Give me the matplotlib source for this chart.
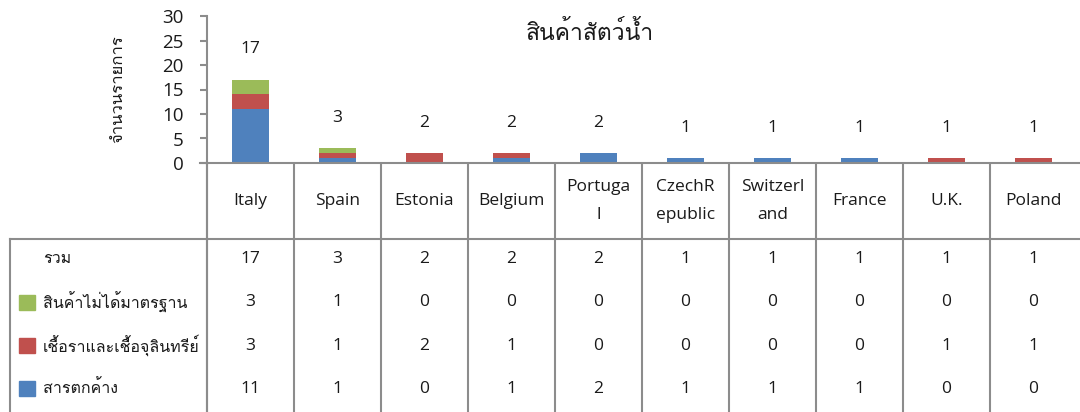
import matplotlib
matplotlib.use("Agg")
import matplotlib.pyplot as plt
from matplotlib import font_manager
from matplotlib.ft2font import FT2Font
import matplotlib.transforms as mtransforms

# ---------------- data ----------------
countries = ["Italy", "Spain", "Estonia", "Belgium", "Portuga\nl", "CzechR\nepublic",
             "Switzerl\nand", "France", "U.K.", "Poland"]
residue = [11, 1, 0, 1, 2, 1, 1, 1, 0, 0]          # สารตกค้าง
microbe = [3, 1, 2, 1, 0, 0, 0, 0, 1, 1]            # เชื้อราและเชื้อจุลินทรีย์
substandard = [3, 1, 0, 0, 0, 0, 0, 0, 0, 0]        # สินค้าไม่ได้มาตรฐาน
totals = [17, 3, 2, 2, 2, 1, 1, 1, 1, 1]            # รวม
yticks = [0, 5, 10, 15, 20, 25, 30]
title = "สินค้าสัตว์น้ำ"
ylabel = "จำนวนรายการ"
row_labels = ["รวม", "สินค้าไม่ได้มาตรฐาน", "เชื้อราและเชื้อจุลินทรีย์", "สารตกค้าง"]

# ---------------- fonts ----------------
thai_fonts = []
for fe in font_manager.fontManager.ttflist:
    try:
        cm = FT2Font(fe.fname).get_charmap()
        if 0x0E01 in cm and fe.name not in thai_fonts:
            thai_fonts.append(fe.name)
    except Exception:
        pass
fam = ["Open Sans"] + thai_fonts[:1] + ["DejaVu Sans"]
plt.rcParams["font.family"] = fam

BLUE, RED, GREEN = "#4F81BD", "#C0504D", "#9BBB59"
GRID = "#8C8C8C"
TXT = "#1a1a1a"
FS = 12.5      # numbers / latin text
FS_TH = 11.5   # thai row labels

W, H = 1080, 412
fig = plt.figure(figsize=(W / 100, H / 100), dpi=100)
L, R, T, B = 207, 1077, 16, 163
ax = fig.add_axes([L / W, 1 - B / H, (R - L) / W, (B - T) / H])
ov = fig.add_axes([0, 0, 1, 1], zorder=-1)
ov.set_xlim(0, W)
ov.set_ylim(H, 0)
ov.axis("off")

n = len(countries)
x = list(range(n))
bw = 0.42
ax.bar(x, residue, bw, color=BLUE, zorder=2)
ax.bar(x, microbe, bw, bottom=residue, color=RED, zorder=2)
b3 = [r + m for r, m in zip(residue, microbe)]
ax.bar(x, substandard, bw, bottom=b3, color=GREEN, zorder=2)
for xi, t in zip(x, totals):
    ax.annotate(str(t), (xi, t), xytext=(0, 22), textcoords="offset points",
                ha="center", va="center", fontsize=FS, color=TXT)

ax.set_xlim(-0.5, n - 0.5)
ax.set_ylim(0, 30)
ax.set_yticks(yticks)
ax.set_yticklabels([str(v) for v in yticks], fontsize=FS + 1)
ax.set_xticks([])
for s in ["top", "right"]:
    ax.spines[s].set_visible(False)
for s in ["left", "bottom"]:
    ax.spines[s].set_color(GRID)
    ax.spines[s].set_linewidth(1.5)
ax.spines["bottom"].set_bounds(-0.5, n)
ax.tick_params(axis="y", length=5, width=1.5, color=GRID, pad=12, labelcolor=TXT)
ax.set_ylabel(ylabel, fontsize=12, labelpad=26, color=TXT)
ax.text(0.44, 0.88, title, transform=ax.transAxes, ha="center", va="center",
        fontsize=16.5, color=TXT)

# ---------------- data table ----------------
tr = mtransforms.blended_transform_factory(ax.transData, ov.transData)
head_bot = 239
row_h = 43.25
lw = 1.5
for i in range(n):
    ov.plot([i - 0.5, i - 0.5], [B, H], transform=tr, color=GRID, lw=lw,
            solid_capstyle="butt", clip_on=False)
ov.plot([200, L], [B, B], color=GRID, lw=lw, clip_on=False)
ov.plot([10, W], [head_bot, head_bot], color=GRID, lw=lw, clip_on=False)
ov.plot([10, 10], [head_bot, H], color=GRID, lw=lw, clip_on=False)
ov.plot([L, L], [B, H], color=GRID, lw=lw, clip_on=False)

for xi, c in zip(x, countries):
    ov.text(xi, (B + head_bot) / 2, c, transform=tr, ha="center", va="center",
            fontsize=FS, linespacing=2.0, color=TXT)

rows = [totals, substandard, microbe, residue]
colors = [None, GREEN, RED, BLUE]
for k, (lab, vals, col) in enumerate(zip(row_labels, rows, colors)):
    yc = head_bot + 20 + k * row_h
    if col:
        ov.add_patch(plt.Rectangle((19, yc - 7.5), 16, 15, color=col))
    ov.text(43, yc, lab, ha="left", va="center", fontsize=FS_TH, color=TXT)
    for xi, v in zip(x, vals):
        ov.text(xi, yc, str(v), transform=tr, ha="center", va="center",
                fontsize=FS, color=TXT)

fig.savefig("out.png", dpi=100)
